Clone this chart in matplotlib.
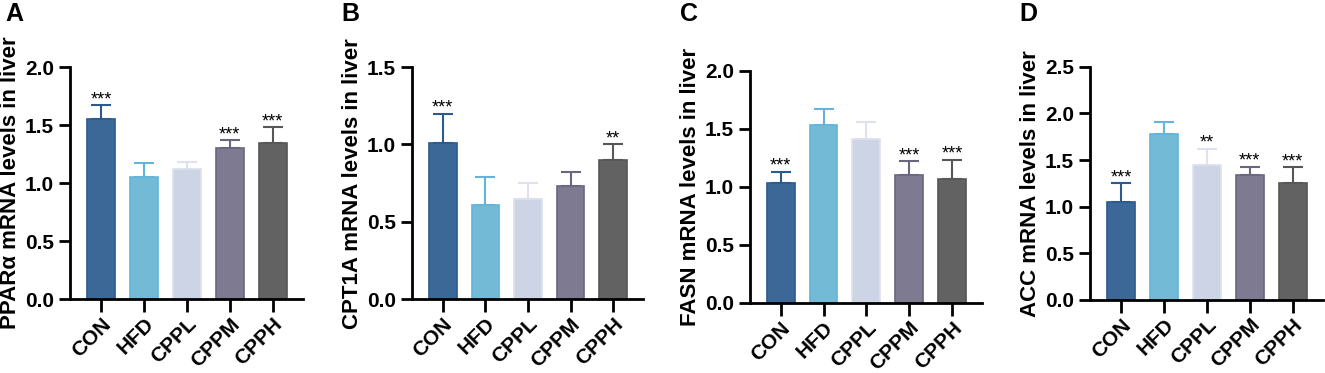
import numpy as np
import matplotlib
matplotlib.use("Agg")
import matplotlib.pyplot as plt

plt.rcParams['font.family'] = ['Liberation Sans', 'DejaVu Sans']
plt.rcParams['font.weight'] = 'bold'

groups = ["CON", "HFD", "CPPL", "CPPM", "CPPH"]

ppara = [1.55, 1.05, 1.12, 1.30, 1.35]
ppara_err = [0.12, 0.12, 0.06, 0.07, 0.13]
ppara_sig = ["***", "", "", "***", "***"]

cpt1a = [1.01, 0.61, 0.65, 0.73, 0.90]
cpt1a_err = [0.19, 0.18, 0.10, 0.09, 0.10]
cpt1a_sig = ["***", "", "", "", "**"]

fasn = [1.03, 1.53, 1.41, 1.10, 1.07]
fasn_err = [0.10, 0.14, 0.15, 0.12, 0.16]
fasn_sig = ["***", "", "", "***", "***"]

acc = [1.05, 1.78, 1.45, 1.34, 1.25]
acc_err = [0.20, 0.13, 0.17, 0.09, 0.17]
acc_sig = ["***", "", "**", "***", "***"]

face = ["#3b6896", "#72bad6", "#cdd4e6", "#7e7a91", "#626262"]
edge = ["#2b5a8e", "#62b4d8", "#dde2ee", "#6a6680", "#565656"]

panels = [
    ("A", "PPARα mRNA levels in liver", ppara, ppara_err, ppara_sig, 2.0, [0.0528, 0.198, 0.1758, 0.622]),
    ("B", "CPT1A mRNA levels in liver", cpt1a, cpt1a_err, cpt1a_sig, 1.5, [0.311, 0.198, 0.1743, 0.622]),
    ("C", "FASN mRNA levels in liver", fasn, fasn_err, fasn_sig, 2.0, [0.566, 0.188, 0.1751, 0.622]),
    ("D", "ACC mRNA levels in liver", acc, acc_err, acc_sig, 2.5, [0.8226, 0.196, 0.1758, 0.625]),
]
letter_x = [0.004, 0.258, 0.513, 0.769]

fig = plt.figure(figsize=(13.25, 3.73), dpi=100)
x = np.arange(len(groups))

for (letter, ylab, vals, errs, sig, ymax, pos), lx in zip(panels, letter_x):
    ax = fig.add_axes(pos)
    for i in range(len(groups)):
        ax.bar(x[i], vals[i], width=0.65, color=face[i], edgecolor=edge[i], linewidth=1.2, zorder=2)
        ax.errorbar(x[i], vals[i], yerr=[[0], [errs[i]]], color=edge[i], capsize=7,
                    elinewidth=1.5, capthick=1.5, zorder=1)
        if sig[i]:
            ax.text(x[i], vals[i] + errs[i] - ymax * 0.012, sig[i], ha="center", va="bottom",
                    fontsize=13, fontweight="normal")
    ax.set_xlim(-0.72, 4.7)
    ax.set_ylim(0, ymax)
    ticks = np.arange(0, ymax + 0.01, 0.5)
    ax.set_yticks(ticks)
    ax.set_yticklabels([f"{v:.1f}" for v in ticks], fontsize=15, fontweight="bold")
    ax.set_xticks(x)
    ax.set_xticklabels(groups, rotation=45, ha="right", rotation_mode="anchor", fontsize=15, fontweight="bold")
    ax.set_ylabel(ylab, fontsize=16, fontweight="bold", labelpad=3)
    for s in ["top", "right"]:
        ax.spines[s].set_visible(False)
    for s in ["left", "bottom"]:
        ax.spines[s].set_linewidth(2)
    ax.tick_params(axis="y", width=2, length=8, direction="out")
    ax.tick_params(axis="x", width=2, length=9, direction="out", pad=2)
    fig.text(lx, 0.962, letter, fontsize=18, fontweight="bold", ha="left", va="center")

fig.savefig("out.png", dpi=100)
